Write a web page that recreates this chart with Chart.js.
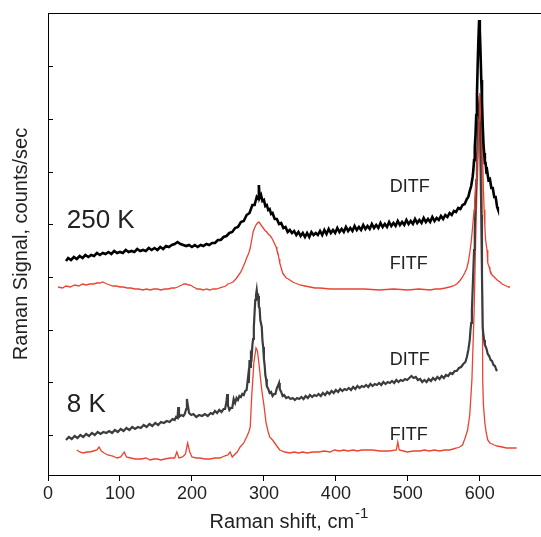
<!DOCTYPE html>
<html>
<head>
<meta charset="utf-8">
<script src="https://cdn.jsdelivr.net/npm/chart.js@4.4.0/dist/chart.umd.min.js"></script>
<style>
html, body { margin: 0; padding: 0; background: #fff; }
</style>
</head>
<body>
<canvas id="chart" width="541" height="537"></canvas>
<script>
// Raman shift (cm-1) vs signal (arbitrary counts/sec, curves offset for display)
const ditf250 = [
  [25,174],[28,177],[32,175],[36,178],[40,176],[44,179],[48,177],[52,180],[56,178],[60,180],[64,179],[68,182],[72,180],[76,182],[80,181],[84,183],[88,181],[92,184],[96,182],[100,183],[104,182],[108,185],[112,183],[116,184],[120,183],[124,186],[128,184],[132,185],[136,184],[140,187],[144,185],[148,187],[152,185],[156,188],[160,186],[164,189],[168,188],[172,190],[176,191],[180,193],[184,191],[188,190],[192,189],[196,190],[200,188],[204,190],[208,188],[212,190],[216,189],[220,191],[224,190],[228,192],[232,192],[236,195],[240,195],[244,198],[248,199],[252,202],[256,203],[260,207],[264,208],[268,213],[272,214],[276,220],[280,222],[284,230],[287,230],[290,238],[292,236],[293,250],[294,237],[296,240],[298,234],[300,235],[302,229],[304,230],[306,225],[308,226],[310,221],[312,222],[315,216],[318,216],[321,211],[324,212],[327,207],[330,208],[333,203],[336,205],[339,202],[342,204],[345,200],[348,203],[351,199],[354,202],[357,198],[360,202],[363,198],[366,203],[369,200],[372,202],[375,200],[378,204],[381,200],[384,205],[387,201],[390,206],[393,202],[396,205],[399,202],[402,207],[405,203],[408,206],[411,203],[414,208],[417,204],[420,207],[423,204],[426,209],[429,205],[432,208],[435,205],[438,210],[441,206],[444,209],[447,206],[450,211],[453,207],[456,210],[459,207],[462,212],[465,208],[468,211],[471,208],[474,213],[477,209],[480,212],[483,209],[486,214],[489,210],[492,213],[495,210],[498,215],[501,211],[504,214],[507,211],[510,216],[513,212],[516,215],[519,212],[522,217],[525,213],[528,216],[531,213],[534,218],[537,214],[540,217],[543,215],[546,219],[549,216],[552,220],[555,218],[558,222],[561,220],[564,224],[567,223],[570,227],[573,226],[576,230],[579,231],[582,236],[584,238],[586,244],[588,249],[590,258],[591,265],[592,275],[593,288],[594,300],[595,320],[596,340],[597,370],[598,395],[599,415],[600,405],[601,382],[602,355],[603,335],[604,310],[605,292],[606,282],[607,272],[608,272],[609,264],[610,265],[612,255],[614,256],[616,247],[618,247],[620,238],[622,238],[624,228],[625,226]
];
const fitf250 = [
  [14,148],[20,147],[25,149],[31,148],[37,150],[43,149],[48,151],[53,150],[58,151],[63,151],[68,152],[72,152],[76,153],[79,152],[82,151],[86,150],[90,149],[95,149],[100,148],[105,148],[110,147],[115,147],[121,146],[126,146],[132,145],[137,146],[142,145],[147,146],[152,146],[157,145],[162,146],[167,146],[172,147],[176,147],[180,148],[183,149],[186,150],[189,151],[192,151],[195,150],[197,150],[200,149],[202,148],[205,147],[207,146],[211,146],[216,145],[220,146],[225,145],[229,146],[234,146],[238,147],[243,148],[247,149],[250,151],[254,152],[257,153],[261,156],[264,159],[268,163],[271,168],[274,173],[276,177],[279,182],[281,187],[283,195],[285,203],[287,207],[289,210],[291,212],[293,213],[295,211],[297,209],[299,207],[301,205],[304,203],[306,201],[309,199],[311,197],[313,194],[315,191],[317,188],[318,185],[319,183],[320,180],[321,176],[322,172],[324,167],[326,162],[328,160],[331,157],[334,156],[336,155],[340,153],[343,152],[347,151],[350,150],[357,149],[364,148],[371,147],[378,147],[392,146],[406,146],[420,146],[440,146],[460,145],[480,146],[500,145],[515,146],[531,145],[538,146],[545,146],[552,147],[558,148],[563,149],[568,151],[572,154],[576,158],[579,162],[582,167],[584,173],[586,182],[588,193],[590,208],[592,225],[593,235],[595,255],[596,268],[598,295],[599,315],[600,342],[601,335],[602,320],[603,302],[604,275],[605,245],[606,225],[607,208],[608,195],[610,185],[611,172],[613,168],[614,165],[617,160],[620,158],[624,155],[628,153],[631,151],[634,150],[637,149],[640,148],[642,148]
];
const ditf8 = [
  [25,-5],[29,-2],[33,-4],[37,-1],[41,-3],[45,0],[49,-2],[53,1],[57,-1],[61,2],[65,0],[69,3],[73,1],[77,3],[81,2],[85,4],[89,2],[93,5],[97,3],[101,6],[105,4],[109,7],[113,5],[117,8],[121,6],[125,8],[129,7],[133,10],[137,8],[141,11],[145,9],[149,12],[153,10],[157,13],[161,12],[165,14],[169,13],[173,16],[176,15],[178,18],[180,17],[181,28],[182,18],[185,20],[188,19],[190,21],[192,26],[193,36],[194,31],[196,22],[199,20],[202,21],[206,18],[210,20],[214,19],[218,21],[222,19],[226,22],[229,21],[232,24],[235,22],[238,25],[241,23],[244,26],[246,26],[248,33],[249,41],[250,30],[252,25],[254,27],[256,27],[258,36],[260,32],[262,37],[264,35],[266,39],[268,38],[270,41],[272,40],[274,44],[276,45],[278,58],[279,52],[280,75],[281,68],[282,80],[283,78],[284,90],[285,96],[286,108],[287,122],[288,135],[289,140],[290,145],[291,138],[292,139],[293,128],[294,127],[295,115],[297,108],[298,94],[299,88],[300,76],[301,70],[302,60],[303,56],[304,49],[306,46],[308,42],[310,43],[312,39],[314,41],[316,41],[318,47],[320,50],[321,52],[322,46],[324,43],[326,39],[328,40],[331,37],[334,38],[337,36],[340,37],[343,35],[346,37],[349,36],[352,38],[355,36],[358,39],[361,37],[364,40],[367,38],[370,40],[373,39],[376,41],[379,39],[382,42],[385,40],[388,43],[391,41],[394,44],[397,42],[400,45],[403,43],[406,46],[409,44],[412,46],[415,45],[418,47],[421,45],[424,48],[427,46],[430,49],[433,47],[436,49],[439,48],[442,50],[445,48],[448,51],[451,49],[454,51],[457,50],[460,52],[463,50],[466,53],[469,51],[472,53],[475,52],[478,54],[481,52],[484,55],[487,53],[490,55],[493,54],[496,56],[499,55],[502,57],[505,59],[508,57],[511,58],[514,55],[517,56],[520,53],[523,55],[526,53],[529,56],[532,54],[535,57],[538,55],[541,58],[544,56],[547,59],[550,57],[553,60],[556,59],[559,62],[562,61],[565,64],[568,64],[571,67],[574,68],[577,71],[580,73],[582,78],[584,85],[586,95],[587,105],[588,112],[589,125],[590,145],[591,165],[592,185],[593,205],[594,230],[595,255],[596,275],[597,300],[598,318],[599,330],[600,325],[601,270],[602,220],[603,160],[604,108],[605,100],[606,95],[607,90],[609,87],[611,81],[613,79],[615,75],[617,74],[619,70],[621,69],[623,65],[624,64]
];
const fitf8 = [
  [40,-15],[44,-17],[49,-18],[54,-17],[58,-17],[63,-16],[68,-15],[71,-12],[74,-16],[78,-18],[83,-20],[90,-21],[96,-23],[101,-22],[106,-17],[109,-22],[115,-23],[121,-24],[130,-24],[136,-23],[142,-25],[147,-24],[152,-24],[157,-25],[162,-24],[170,-23],[176,-23],[179,-17],[182,-23],[187,-22],[191,-19],[194,-8],[197,-17],[200,-22],[206,-23],[211,-23],[218,-24],[225,-24],[232,-23],[239,-23],[245,-21],[250,-20],[253,-17],[256,-22],[260,-19],[263,-17],[267,-12],[272,-8],[276,-2],[279,3],[281,8],[283,38],[286,72],[289,87],[291,84],[293,72],[297,45],[300,30],[303,12],[306,3],[308,-2],[312,-5],[315,-8],[319,-12],[322,-15],[329,-17],[336,-18],[342,-17],[348,-18],[354,-17],[360,-18],[368,-17],[376,-17],[384,-16],[392,-17],[398,-15],[405,-16],[411,-15],[417,-16],[424,-15],[430,-16],[436,-15],[442,-15],[451,-15],[461,-16],[474,-16],[484,-15],[486,-7],[488,-15],[494,-16],[499,-17],[508,-16],[517,-16],[523,-15],[530,-16],[537,-15],[544,-16],[551,-15],[558,-15],[563,-14],[568,-13],[572,-12],[576,-10],[580,-2],[583,5],[586,20],[589,55],[592,122],[595,220],[598,290],[601,325],[602,320],[603,250],[604,55],[605,30],[607,12],[609,2],[611,-5],[614,-8],[617,-9],[620,-10],[624,-11],[631,-12],[637,-13],[644,-13],[651,-13]
];

const xTicks = [0, 100, 200, 300, 400, 500, 600];
const yTicks = [0, 52.7, 105.4, 158.1, 210.8, 263.5, 316.2, 368.9, 421.6]; // unlabelled inner ticks

// text placed in data coordinates
const notes = [
  { text: '250 K', x: 26, y: 214, size: 26 },
  { text: '8 K',   x: 26, y: 30,  size: 26 },
  { text: 'DITF',  x: 475, y: 248, size: 18 },
  { text: 'FITF',  x: 475, y: 171, size: 18 },
  { text: 'DITF',  x: 475, y: 75,  size: 18 },
  { text: 'FITF',  x: 475, y: 0,   size: 18 }
];

const FONT = "'Liberation Sans', Arial, sans-serif";
const RED = 'rgb(232, 68, 48)';
const TEXT = '#222';

const toPts = arr => arr.map(p => ({ x: p[0], y: p[1] }));

const frame = {
  id: 'frame',
  afterDraw(chart) {
    const { ctx, chartArea: a, scales } = chart;
    ctx.save();
    ctx.strokeStyle = '#000';
    ctx.lineWidth = 1;

    // top edge of the box
    ctx.beginPath();
    ctx.moveTo(a.left, a.top + 0.5);
    ctx.lineTo(chart.width, a.top + 0.5);
    ctx.stroke();

    // inward ticks on the signal axis
    ctx.beginPath();
    yTicks.forEach(v => {
      const py = Math.round(scales.y.getPixelForValue(v)) + 0.5;
      ctx.moveTo(a.left, py);
      ctx.lineTo(a.left + 5, py);
    });
    ctx.stroke();

    ctx.fillStyle = TEXT;
    ctx.textAlign = 'left';
    ctx.textBaseline = 'middle';
    notes.forEach(n => {
      ctx.font = n.size + 'px ' + FONT;
      ctx.fillText(n.text, scales.x.getPixelForValue(n.x), scales.y.getPixelForValue(n.y));
    });

    // x title with superscript
    const main = 'Raman shift, cm';
    const sup = '-1';
    ctx.textBaseline = 'alphabetic';
    ctx.font = '20px ' + FONT;
    const w1 = ctx.measureText(main).width;
    ctx.font = '15px ' + FONT;
    const w2 = ctx.measureText(sup).width;
    const x0 = (a.left + a.right) / 2 - (w1 + w2) / 2 - 6;
    ctx.font = '20px ' + FONT;
    ctx.fillText(main, x0, 528);
    ctx.font = '15px ' + FONT;
    ctx.fillText(sup, x0 + w1 + 1, 518);
    ctx.restore();
  }
};

new Chart(document.getElementById('chart'), {
  type: 'line',
  data: {
    datasets: [
      { label: 'DITF 250 K', data: toPts(ditf250), borderColor: '#000', borderWidth: 2.6 },
      { label: 'FITF 250 K', data: toPts(fitf250), borderColor: RED, borderWidth: 1.3 },
      { label: 'DITF 8 K', data: toPts(ditf8), borderColor: '#3c3c3c', borderWidth: 2.2 },
      { label: 'FITF 8 K', data: toPts(fitf8), borderColor: RED, borderWidth: 1.3 }
    ]
  },
  options: {
    responsive: false,
    animation: false,
    parsing: false,
    elements: { point: { radius: 0 }, line: { tension: 0 } },
    layout: { padding: { top: 13, right: 0, left: 0, bottom: 0 } },
    plugins: { legend: { display: false }, tooltip: { enabled: false } },
    scales: {
      x: {
        type: 'linear',
        min: 0,
        max: 685,
        afterBuildTicks: s => { s.ticks = xTicks.map(v => ({ value: v })); },
        afterFit: s => { s.height = 62; },
        ticks: { color: TEXT, font: { family: FONT, size: 18 }, padding: 2, maxRotation: 0 },
        grid: { drawOnChartArea: false, drawTicks: true, tickLength: 6, color: '#000' },
        border: { display: true, color: '#000', width: 1 },
        title: { display: false }
      },
      y: {
        type: 'linear',
        min: -40,
        max: 422,
        afterFit: s => { s.width = 48; },
        ticks: { display: false },
        grid: { drawOnChartArea: false, drawTicks: false },
        border: { display: true, color: '#000', width: 1 },
        title: {
          display: true,
          text: 'Raman Signal, counts/sec',
          color: TEXT,
          font: { family: FONT, size: 20 },
          padding: { top: 9, bottom: 0 }
        }
      }
    }
  },
  plugins: [frame]
});
</script>
</body>
</html>
